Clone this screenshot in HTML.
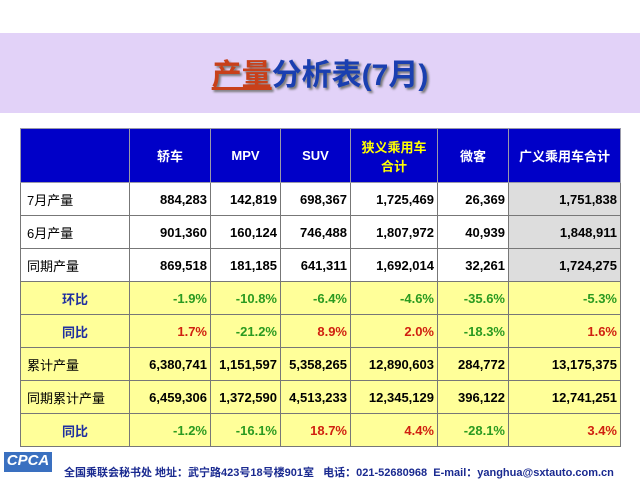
<!DOCTYPE html><html><head><meta charset="utf-8"><style>
body{margin:0;width:640px;height:480px;background:#fff;position:relative;overflow:hidden;font-family:"Liberation Sans","Noto Sans CJK SC",sans-serif}
.band{position:absolute;left:0;top:33px;width:640px;height:80px;background:#e2d2f8}
.title{position:absolute;left:0;top:50px;width:640px;text-align:center;font-size:30px;font-weight:bold;color:#1a3fb0;text-shadow:2px 2px 2px #777}
.title u{color:#c8401a}
table{position:absolute;left:20px;top:128px;border-collapse:collapse;font-size:13px;font-weight:bold}
td{border:1px solid #777;height:32px;padding:0 3px;text-align:right;color:#000}
tr.h td{background:#0000c8;color:#fff;text-align:center;height:53px;border-color:#99a}
tr.y td{background:#ffff99}
td.g{background:#ddd}
td.l{text-align:left;padding-left:6px;font-weight:normal}
td.c{text-align:center;color:#2030a0}
.gr{color:#2a9a20}.rd{color:#d02010}
.foot{position:absolute;left:64px;top:464px;font-size:11px;color:#1a2a90;font-weight:bold}
.logo{position:absolute;left:4px;top:452px;width:48px;height:20px;background:#3a70c0;color:#fff;font-style:italic;font-weight:bold;font-size:15px;text-align:center}
</style></head><body>
<div class="band"></div>
<div class="title"><u>产量</u>分析表(7月)</div>
<table>
<colgroup><col style="width:109px"><col style="width:81px"><col style="width:70px"><col style="width:70px"><col style="width:87px"><col style="width:71px"><col style="width:112px"></colgroup>
<tr class="h"><td></td><td>轿车</td><td>MPV</td><td>SUV</td><td style="color:#ffff00">狭义乘用车<br>合计</td><td>微客</td><td>广义乘用车合计</td></tr>
<tr><td class="l">7月产量</td><td>884,283</td><td>142,819</td><td>698,367</td><td>1,725,469</td><td>26,369</td><td class="g">1,751,838</td></tr>
<tr><td class="l">6月产量</td><td>901,360</td><td>160,124</td><td>746,488</td><td>1,807,972</td><td>40,939</td><td class="g">1,848,911</td></tr>
<tr><td class="l">同期产量</td><td>869,518</td><td>181,185</td><td>641,311</td><td>1,692,014</td><td>32,261</td><td class="g">1,724,275</td></tr>
<tr class="y"><td class="c">环比</td><td class="gr">-1.9%</td><td class="gr">-10.8%</td><td class="gr">-6.4%</td><td class="gr">-4.6%</td><td class="gr">-35.6%</td><td class="gr">-5.3%</td></tr>
<tr class="y"><td class="c">同比</td><td class="rd">1.7%</td><td class="gr">-21.2%</td><td class="rd">8.9%</td><td class="rd">2.0%</td><td class="gr">-18.3%</td><td class="rd">1.6%</td></tr>
<tr class="y"><td class="l">累计产量</td><td>6,380,741</td><td>1,151,597</td><td>5,358,265</td><td>12,890,603</td><td>284,772</td><td>13,175,375</td></tr>
<tr class="y"><td class="l">同期累计产量</td><td>6,459,306</td><td>1,372,590</td><td>4,513,233</td><td>12,345,129</td><td>396,122</td><td>12,741,251</td></tr>
<tr class="y"><td class="c">同比</td><td class="gr">-1.2%</td><td class="gr">-16.1%</td><td class="rd">18.7%</td><td class="rd">4.4%</td><td class="gr">-28.1%</td><td class="rd">3.4%</td></tr>
</table>
<div class="logo">CPCA</div>
<div class="foot">全国乘联会秘书处 地址：武宁路423号18号楼901室 &nbsp; 电话：021-52680968 &nbsp;E-mail：yanghua@sxtauto.com.cn</div>
</body></html>
